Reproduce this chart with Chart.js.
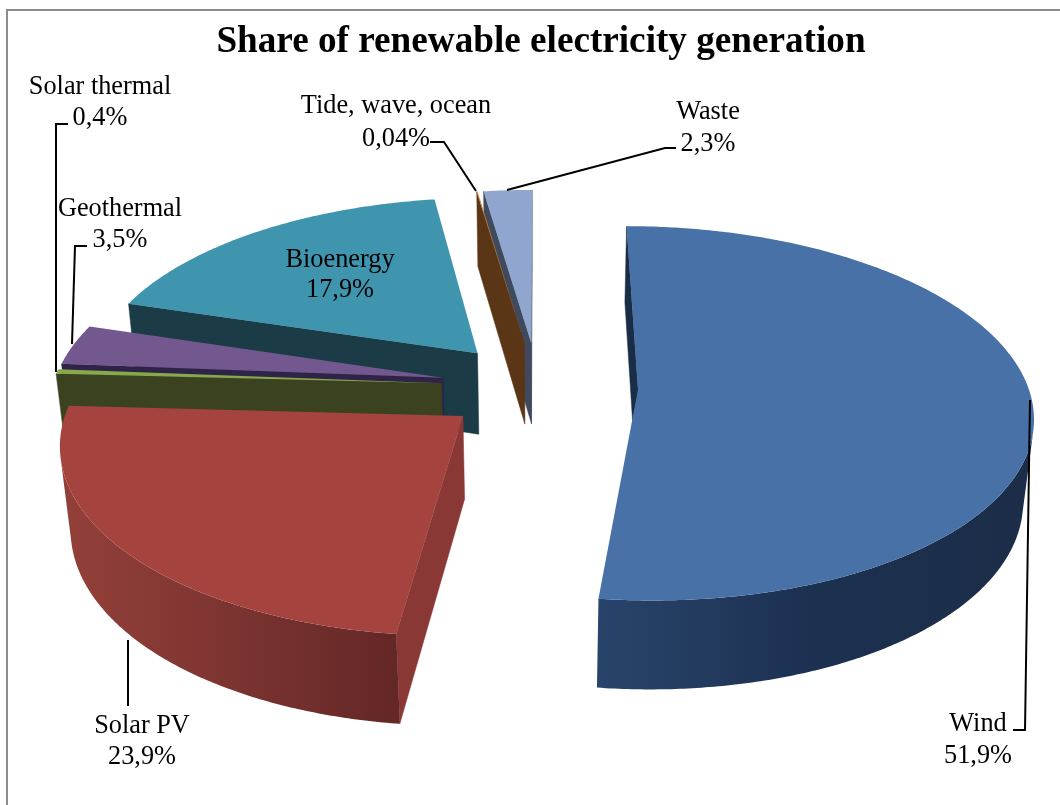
<!DOCTYPE html>
<html>
<head>
<meta charset="utf-8">
<title>Share of renewable electricity generation</title>
<script src="https://cdn.jsdelivr.net/npm/chart.js@4"></script>
<style>
  html, body { margin: 0; padding: 0; background: #fff; }
  canvas { display: block; }
</style>
</head>
<body>
<canvas id="shareChart" width="1060" height="805"></canvas>
<script>
const categories = ["Wind", "Solar PV", "Solar thermal", "Geothermal", "Bioenergy", "Tide, wave, ocean", "Waste"];
const shares = [51.9, 23.9, 0.4, 3.5, 17.9, 0.04, 2.3];
const explode = [100, 96, 97, 97, 95, 95, 95];

// slice colours: top face, front/side face, outer wall (left to right)
const topColors = ["#4771a7", "#a5433f", "#87a84b", "#73588f", "#3f95ae", "#d58b3c", "#90a6cf"];
const sideColors = ["#1a2d47", "#8a3835", "#3a421f", "#2f2347", "#1b3b47", "#5a3617", "#3f4a5f"];
const wallColors = [
  ["#28446b", "#1c3050", "#1b2d48"],
  ["#944039", "#7c3431", "#632726"],
  ["#3a421f", "#3a421f"],
  ["#2f2347", "#2f2347"],
  ["#1b3b47", "#1b3b47"],
  ["#5a3617", "#5a3617"],
  ["#3f4a5f", "#3f4a5f"],
];
// back to front
const paintOrder = [6, 5, 4, 3, 2, 1, 0];

// label centre and the two baselines, then the leader line if there is one
const labelBoxes = [
  { x: 978, y: [731, 763], line: [[1030, 400], [1025, 730], [1013, 730]] },
  { x: 142, y: [733, 764], line: [[128, 640], [128, 706]] },
  { x: 100, y: [94, 125], line: [[68, 124], [56, 124], [56, 372]] },
  { x: 120, y: [216, 247], line: [[87, 246], [75, 246], [72, 344]] },
  { x: 340, y: [267, 297], line: null },
  { x: 396, y: [113, 146], line: [[430, 142], [444, 142], [476, 191]] },
  { x: 708, y: [119, 151], line: [[676, 148], [665, 148], [507, 190]] },
];

// camera settings for the tilted pie
const TILT = 0.47;
const DEPTH = 84;
const PERSPECTIVE = 0.00033;
const DEPTH_SHRINK = 0.022;
const SHIFT_X = -3;

function project(arc, px, py, h) {
  const s = 1 / (1 - PERSPECTIVE * py + DEPTH_SHRINK * h);
  return [arc.x + SHIFT_X + px * s, arc.y + (TILT * py + DEPTH * h) * s];
}

// outline of a slice on the pie plane, apex first
function sliceOutline(arc) {
  const mid = (arc.startAngle + arc.endAngle) / 2;
  const ox = Math.cos(mid) * arc.options.offset;
  const oy = Math.sin(mid) * arc.options.offset;
  const pts = [[ox, oy]];
  const steps = Math.max(2, Math.ceil((arc.endAngle - arc.startAngle) / 0.01));
  for (let i = 0; i <= steps; i++) {
    const a = arc.startAngle + (arc.endAngle - arc.startAngle) * i / steps;
    pts.push([ox + Math.cos(a) * arc.outerRadius, oy + Math.sin(a) * arc.outerRadius]);
  }
  return pts;
}

function traceQuad(ctx, q) {
  ctx.moveTo(q[0][0], q[0][1]);
  for (let i = 1; i < q.length; i++) ctx.lineTo(q[i][0], q[i][1]);
  ctx.closePath();
}

function quadArea(q) {
  let sum = 0;
  for (let i = 0; i < q.length; i++) {
    const n = q[(i + 1) % q.length];
    sum += q[i][0] * n[1] - n[0] * q[i][1];
  }
  return sum;
}

function drawSlice(ctx, arc, i) {
  const pts = sliceOutline(arc);
  const last = pts.length - 1;
  const wall = [];
  const flat = [];

  for (let k = 0; k <= last; k++) {
    const p = pts[k];
    const q = pts[(k + 1) % pts.length];
    const quad = [project(arc, p[0], p[1], 0), project(arc, q[0], q[1], 0),
                  project(arc, q[0], q[1], 1), project(arc, p[0], p[1], 1)];
    if (quadArea(quad) >= 0) continue;
    // first and last edges are the cut faces, the rest is the rim
    if (k === 0 || k === last) flat.push(quad);
    else wall.push(quad);
  }

  ctx.fillStyle = sideColors[i];
  ctx.strokeStyle = sideColors[i];
  ctx.lineWidth = 0.5;
  flat.forEach((quad) => {
    ctx.beginPath();
    traceQuad(ctx, quad);
    ctx.fill();
    ctx.stroke();
  });

  if (wall.length) {
    const xs = wall.flat().map((p) => p[0]);
    const g = ctx.createLinearGradient(Math.min(...xs), 0, Math.max(...xs), 0);
    wallColors[i].forEach((c, n) => g.addColorStop(n / (wallColors[i].length - 1), c));
    ctx.fillStyle = g;
    ctx.beginPath();
    wall.forEach((quad) => traceQuad(ctx, quad));
    ctx.fill();
  }

  ctx.fillStyle = topColors[i];
  ctx.beginPath();
  traceQuad(ctx, pts.map((p) => project(arc, p[0], p[1], 0)));
  ctx.fill();
}

const tiltedPie = {
  id: "tiltedPie",
  beforeDraw(chart) {
    const ctx = chart.ctx;
    // frame: only the top and left edges fall on the page
    ctx.save();
    ctx.strokeStyle = "#8c8c8c";
    ctx.lineWidth = 2;
    ctx.beginPath();
    ctx.moveTo(7, chart.height);
    ctx.lineTo(7, 10);
    ctx.lineTo(chart.width, 10);
    ctx.stroke();
    ctx.restore();
  },
  beforeDatasetDraw(chart, args) {
    const ctx = chart.ctx;
    const arcs = args.meta.data;
    ctx.save();
    ctx.lineJoin = "round";
    paintOrder.forEach((i) => drawSlice(ctx, arcs[i], i));
    ctx.restore();
    return false; // the slices are done, skip the flat pie
  },
  afterDraw(chart) {
    const ctx = chart.ctx;
    ctx.save();
    ctx.strokeStyle = "#000";
    ctx.lineWidth = 2;
    labelBoxes.forEach((box) => {
      if (!box.line) return;
      ctx.beginPath();
      box.line.forEach((p, n) => (n ? ctx.lineTo(p[0], p[1]) : ctx.moveTo(p[0], p[1])));
      ctx.stroke();
    });
    ctx.fillStyle = "#000";
    ctx.font = "26.3px 'Liberation Serif'";
    ctx.textAlign = "center";
    ctx.textBaseline = "alphabetic";
    labelBoxes.forEach((box, i) => {
      ctx.fillText(categories[i], box.x, box.y[0]);
      ctx.fillText(String(shares[i]).replace(".", ",") + "%", box.x, box.y[1]);
    });
    ctx.restore();
  },
};

new Chart(document.getElementById("shareChart"), {
  type: "pie",
  data: {
    labels: categories,
    datasets: [{ data: shares, offset: explode, radius: 390, borderWidth: 0 }],
  },
  options: {
    responsive: false,
    animation: false,
    events: [],
    layout: { padding: { left: 22, bottom: 97 } },
    plugins: {
      legend: { display: false },
      tooltip: { enabled: false },
      title: {
        display: true,
        text: "Share of renewable electricity generation",
        color: "#000",
        font: { family: "'Liberation Serif'", size: 37.2, weight: "bold" },
        padding: { top: 20, bottom: 0 },
      },
    },
  },
  plugins: [tiltedPie],
});
</script>
</body>
</html>
